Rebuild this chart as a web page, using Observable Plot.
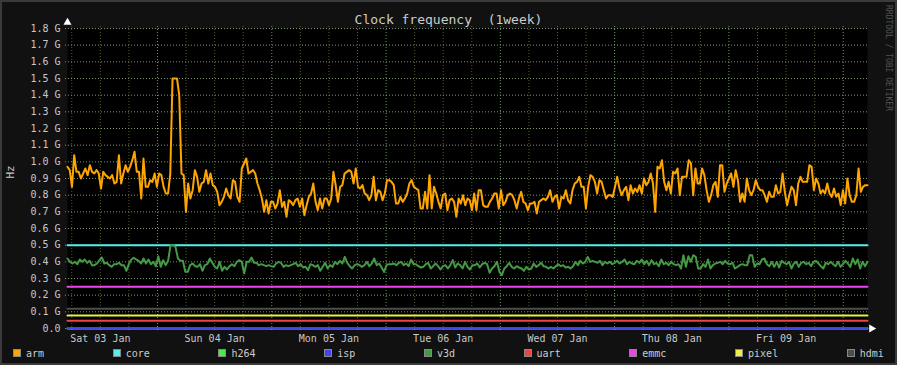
<!DOCTYPE html>
<html><head><meta charset="utf-8">
<script src="https://cdn.jsdelivr.net/npm/d3@7"></script>
<script src="https://cdn.jsdelivr.net/npm/@observablehq/plot@0.6"></script>
<style>
html,body{margin:0;padding:0;background:#111;}
#chart{position:relative;width:897px;height:365px;background:#111;overflow:hidden;font-family:"DejaVu Sans Mono",monospace;}
#title{height:22px;box-sizing:border-box;padding-top:13px;line-height:13px;font-size:13px;color:#ccc;text-align:center;white-space:pre;}
#plot svg{display:block;}
#legend{height:18px;box-sizing:border-box;padding:0 13px 6px 13px;display:flex;justify-content:space-between;align-items:center;font-size:10px;color:#ccc;}
.item{display:flex;align-items:center;}
.sw{width:8px;height:8px;box-sizing:border-box;border:1px solid #888;margin-right:5px;}
#mark{position:absolute;top:5px;right:4px;writing-mode:vertical-rl;font-size:8px;color:#555;white-space:pre;}
#border{position:absolute;left:0;top:0;width:897px;height:365px;box-sizing:border-box;border:2px solid #3a3a3a;pointer-events:none;}
</style>
</head><body>
<div id="chart">
  <div id="title"></div>
  <div id="plot"></div>
  <div id="legend"></div>
  <div id="mark">RRDTOOL / TOBI OETIKER</div>
  <div id="border"></div>
</div>
<script>
const titleText = "Clock frequency  (1week)";
const yLabel = "Hz";
const rangeStart = Date.UTC(2015, 0, 3, 5, 6);
const rangeDays = 7;

const seriesNames = ["arm", "core", "h264", "isp", "v3d", "uart", "emmc", "pixel", "hdmi"];
const seriesColors = ["#FFA500", "#55EEEE", "#44EE44", "#4444EE", "#449944", "#EE4444", "#EE44EE", "#EEEE44", "#4d4d4d"];

// constant-level series (GHz)
const coreValue = 0.5;
const h264Value = 0.0;
const ispValue = 0.0;
const uartValue = 0.046;
const emmcValue = 0.25;
const pixelValue = 0.078;
const hdmiValue = 0.118;

// arm clock (GHz), evenly spaced over the week
const armValues = [
0.97,0.95,0.85,1.04,0.94,0.94,0.90,0.93,0.96,0.92,
0.98,0.94,0.93,0.95,0.93,0.84,0.94,0.92,0.91,0.90,
0.92,0.87,0.88,1.04,0.87,0.93,0.98,0.94,0.97,1.01,
1.06,0.94,0.94,0.78,1.02,0.85,0.85,0.89,0.88,0.93,
0.85,0.93,0.92,0.85,0.81,0.81,0.93,1.5,1.5,1.5,
1.4,0.93,0.92,0.70,0.87,0.78,0.83,0.95,0.91,0.82,
0.87,0.88,0.95,0.87,0.93,0.86,0.85,0.82,0.74,0.76,
0.79,0.84,0.80,0.78,0.89,0.88,0.79,0.76,0.96,0.99,
1.02,0.93,0.94,0.95,0.93,0.87,0.83,0.78,0.70,0.77,
0.69,0.76,0.76,
0.72,0.75,0.83,0.73,0.76,0.67,0.77,
0.76,0.74,0.77,0.78,0.73,0.78,0.68,0.74,0.79,0.81,
0.87,0.76,0.71,0.78,0.72,0.78,0.78,0.74,0.78,0.94,
0.86,0.76,0.85,0.86,0.93,0.94,0.95,0.94,0.87,0.96,
0.85,0.84,0.86,0.81,0.80,0.77,0.80,0.91,0.77,0.83,
0.82,0.77,0.81,0.89,0.89,0.88,0.86,0.75,0.75,0.79,
0.76,0.78,0.81,0.87,0.89,0.85,0.84,0.83,0.72,0.72,
0.82,0.72,0.92,0.72,0.85,0.81,0.76,0.72,0.80,0.81,
0.71,0.77,0.78,0.76,0.67,0.78,0.75,0.80,0.74,0.78,
0.77,0.71,
0.81,0.71,0.83,0.83,0.74,0.73,0.73,0.76,0.78,0.81,
0.81,0.72,0.83,0.74,0.76,0.80,0.81,0.80,0.77,0.72,
0.78,0.82,0.76,0.75,0.71,0.75,0.75,0.76,0.69,0.76,
0.77,0.78,0.77,0.79,0.83,0.76,0.79,0.80,0.72,0.79,
0.78,0.83,0.77,0.75,0.83,0.87,0.88,0.91,0.85,0.85,
0.72,0.85,0.92,0.91,0.88,0.81,0.89,0.88,0.83,0.78,
0.80,0.80,0.79,0.85,0.91,0.84,0.80,0.83,0.85,0.77,
0.86,0.81,0.84,0.82,0.86,0.81,0.90,0.86,0.88,0.93,
0.87,0.70,0.97,0.96,1.01,0.88,0.83,0.88,0.81,0.94,
0.93,
0.96,0.80,0.91,0.91,0.91,1.01,0.99,0.80,0.96,0.87,
0.87,0.96,0.92,0.83,0.76,0.80,0.86,0.88,0.79,0.98,
0.98,0.82,0.87,0.90,0.93,0.85,0.95,0.89,0.76,0.81,
0.76,0.90,0.83,0.80,0.83,0.89,0.85,0.83,0.83,0.80,
0.76,0.82,0.79,0.79,0.86,0.81,0.82,0.93,0.82,0.74,
0.80,0.85,0.83,0.74,0.87,0.91,0.88,0.88,0.88,0.98,
0.97,0.83,0.90,0.87,0.81,0.83,0.81,0.87,0.81,0.79,
0.84,0.79,0.81,0.74,0.83,0.75,0.90,0.80,0.76,0.76,
0.80,0.96,0.82,0.85,0.86,0.86
];

// v3d clock (GHz), evenly spaced over the week
const v3dValues = [
0.42,0.40,0.39,0.40,0.386,0.414,0.40,0.414,0.394,0.406,
0.38,0.38,0.39,0.41,0.426,0.39,0.394,0.38,0.37,0.386,
0.386,0.394,0.38,0.38,0.346,0.386,0.414,0.424,0.414,0.406,
0.39,0.42,0.39,0.414,0.386,0.40,0.374,0.434,0.37,0.41,
0.38,0.406,0.5,0.5,0.49,0.42,0.406,0.406,0.34,0.34,
0.38,0.39,0.374,0.37,0.386,0.346,0.38,0.386,0.42,0.394,
0.37,0.36,0.40,0.346,0.37,0.354,0.374,0.386,0.374,0.40,
0.41,0.40,0.33,0.40,0.40,0.426,0.394,0.394,0.38,0.386,
0.38,0.374,0.38,0.374,0.37,
0.39,0.40,0.394,0.37,0.38,0.374,0.38,0.386,0.394,0.374,
0.386,0.366,0.37,0.35,0.386,0.38,0.37,0.38,0.346,0.37,
0.394,0.36,0.38,0.37,0.40,0.386,0.406,0.39,0.43,0.394,
0.374,0.36,0.38,0.386,0.38,0.37,0.38,0.40,0.374,0.39,
0.42,0.38,0.39,0.366,0.34,0.38,0.386,0.386,0.39,0.38,
0.394,0.40,0.38,0.39,0.374,0.414,0.386,0.386,0.374,0.366,
0.37,0.386,0.394,0.36,0.374,0.39,0.374,0.354,0.374,0.38,
0.36,0.38,0.41,0.366,0.39,0.38,0.36,0.40,0.37,0.354,
0.38,
0.38,0.39,0.366,0.386,0.394,0.386,0.334,0.36,0.374,0.40,
0.34,0.32,0.36,0.374,0.394,0.37,0.36,0.374,0.366,0.36,
0.346,0.37,0.354,0.36,0.39,0.37,0.38,0.394,0.374,0.37,
0.36,0.37,0.36,0.374,0.386,0.374,0.38,0.366,0.37,0.36,
0.374,0.40,0.38,0.406,0.39,0.40,0.43,0.40,0.406,0.40,
0.394,0.406,0.38,0.40,0.39,0.40,0.386,0.394,0.406,0.39,
0.40,0.414,0.386,0.40,0.39,0.386,0.406,0.394,0.414,0.386,
0.406,0.38,0.41,0.386,0.394,0.374,0.414,0.386,0.394,0.38,
0.40,0.386,
0.38,0.386,0.36,0.44,0.37,0.434,0.40,0.44,0.43,0.36,
0.36,0.386,0.37,0.414,0.36,0.38,0.39,0.394,0.40,0.386,
0.406,0.39,0.386,0.394,0.36,0.37,0.38,0.386,0.38,0.38,
0.44,0.44,0.37,0.39,0.386,0.414,0.42,0.386,0.374,0.40,
0.37,0.40,0.366,0.406,0.394,0.386,0.40,0.36,0.39,0.40,
0.37,0.394,0.40,0.386,0.394,0.374,0.40,0.406,0.39,0.374,
0.36,0.394,0.386,0.40,0.386,0.374,0.40,0.37,0.386,0.406,
0.39,0.37,0.42,0.386,0.414,0.36,0.40,0.374,0.40
];

const yTickValues = d3.range(0, 19).map(i => i / 10);

// ---- build tables ----
const start = new Date(rangeStart);
const end = new Date(rangeStart + rangeDays * 86400000);
const span = end - start;
const spread = vals => vals.map((v, i) => ({t: new Date(+start + i * span / (vals.length - 1)), v}));
const flat = v => [{t: start, v}, {t: end, v}];
const seriesData = {
  arm: spread(armValues),
  core: flat(coreValue),
  h264: flat(h264Value),
  isp: flat(ispValue),
  v3d: spread(v3dValues),
  uart: flat(uartValue),
  emmc: flat(emmcValue),
  pixel: flat(pixelValue),
  hdmi: flat(hdmiValue)
};

const majorTimes = d3.utcDay.range(start, end);
const minorTimes = d3.utcHour.every(6).range(start, end).filter(d => d.getUTCHours() !== 0);
const labelTimes = d3.utcDay.range(d3.utcDay.floor(start), end).map(d => d3.utcHour.offset(d, 12)).filter(d => d >= start && d <= end);

document.getElementById("title").textContent = titleText;

const lineMarks = seriesNames.map((name, i) =>
  Plot.line(seriesData[name], {
    x: "t", y: "v", stroke: seriesColors[i],
    strokeWidth: name === "isp" ? 1 : 2,
    curve: "linear"
  })
);

const chart = Plot.plot({
  width: 897,
  height: 325,
  marginLeft: 67,
  marginRight: 30,
  marginTop: 6,
  marginBottom: 19,
  style: {background: "transparent", color: "#ccc", fontFamily: "'DejaVu Sans Mono', monospace", fontSize: "10px", overflow: "visible"},
  x: {type: "utc", domain: [start, end]},
  y: {domain: [0, 1.8]},
  marks: [
    Plot.frame({fill: "#000", stroke: null}),
    Plot.ruleX(minorTimes, {stroke: "#5c5c22", strokeDasharray: "1,2", insetTop: -2, insetBottom: -3}),
    Plot.ruleX(majorTimes, {stroke: "#64a05a", strokeDasharray: "1,2", insetTop: -2, insetBottom: -3}),
    Plot.ruleY(yTickValues, {stroke: "#7d9674", strokeDasharray: "1,2", insetLeft: -2, insetRight: -2}),
    ...lineMarks,
    Plot.axisY(yTickValues, {tickSize: 0, tickPadding: 7, label: null, fill: "#c8c8c8", fontSize: 10,
      tickFormat: d => d === 0 ? "0.0" : d.toFixed(1) + " G"}),
    Plot.axisX(labelTimes, {tickSize: 0, tickPadding: 6, label: null, fill: "#c8c8c8", fontSize: 10,
      tickFormat: d3.utcFormat("%a %d %b")}),
    Plot.text([yLabel], {frameAnchor: "left", text: d => d, rotate: -90, dx: -57, fill: "#c8c8c8", fontSize: 11}),
    Plot.dot([0], {frameAnchor: "top-left", symbol: "triangle", r: 3, fill: "#fff", stroke: null, dy: -6}),
    Plot.dot([0], {frameAnchor: "bottom-right", symbol: "triangle", rotate: 90, r: 3, fill: "#fff", stroke: null, dx: 4})
  ]
});
document.getElementById("plot").appendChild(chart);

const legend = document.getElementById("legend");
seriesNames.forEach((name, i) => {
  const item = document.createElement("div");
  item.className = "item";
  const sw = document.createElement("div");
  sw.className = "sw";
  sw.style.background = seriesColors[i];
  const lab = document.createElement("span");
  lab.textContent = name;
  item.appendChild(sw);
  item.appendChild(lab);
  legend.appendChild(item);
});
</script>
</body></html>
